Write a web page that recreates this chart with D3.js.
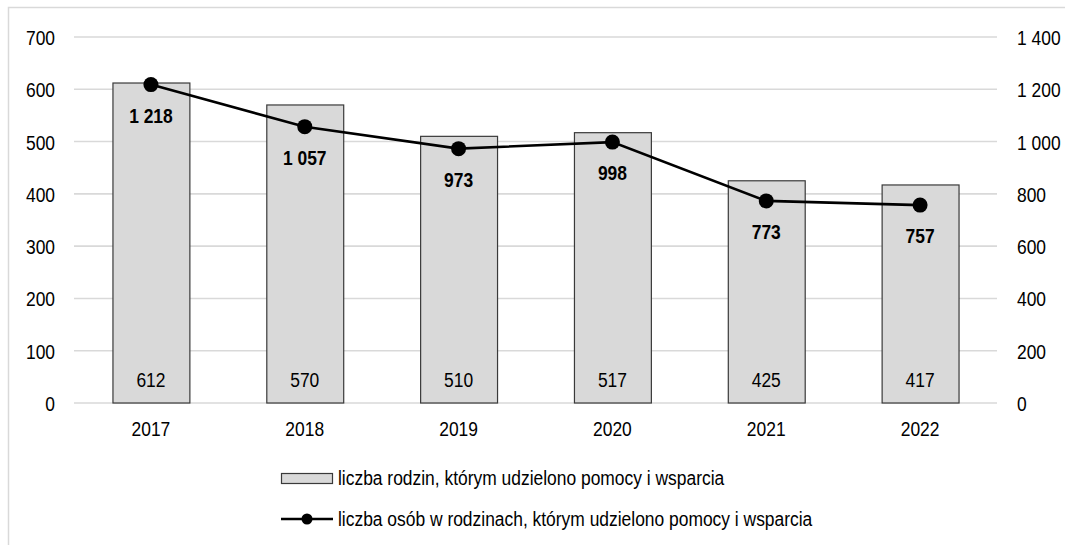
<!DOCTYPE html>
<html>
<head>
<meta charset="utf-8">
<script src="https://cdn.jsdelivr.net/npm/d3@7"></script>
<style>
  html, body { margin: 0; padding: 0; background: #fff; }
  svg { display: block; font-family: "Liberation Sans", Arial, sans-serif; }
</style>
</head>
<body>
<svg id="chart" width="1065" height="545"></svg>
<script>
// Data
const years = ["2017", "2018", "2019", "2020", "2021", "2022"];
const families = [612, 570, 510, 517, 425, 417];
const persons = [1218, 1057, 973, 998, 773, 757];
const leftTicks = [0, 100, 200, 300, 400, 500, 600, 700];
const rightTicks = [0, 200, 400, 600, 800, 1000, 1200, 1400];
const legendLabels = [
  "liczba rodzin, którym udzielono pomocy i wsparcia",
  "liczba osób w rodzinach, którym udzielono pomocy i wsparcia"
];

const svg = d3.select("#chart");
const W = 1065, H = 545;
const plot = { left: 74, right: 997, top: 37, bottom: 403 };
const SX = 0.83; // narrow text face
const FS = 21;

const pl = d3.formatLocale({ decimal: ",", thousands: " ", grouping: [3], currency: ["", ""] });
const fmt = pl.format(",d");

const x = d3.scaleBand().domain(years).range([plot.left, plot.right])
  .paddingInner(0.5).paddingOuter(0.25);
const yL = d3.scaleLinear().domain([0, 700]).range([plot.bottom, plot.top]);
const yR = d3.scaleLinear().domain([0, 1400]).range([plot.bottom, plot.top]);

function label(g, px, py, str, anchor, weight) {
  return g.append("text")
    .attr("transform", `translate(${px},${py}) scale(${SX},1)`)
    .attr("text-anchor", anchor || "middle")
    .attr("font-size", FS)
    .attr("font-weight", weight || "normal")
    .attr("fill", "#000")
    .text(str);
}

// Outer frame
svg.append("path")
  .attr("d", `M8.5,${H} V7.5 H${W}`)
  .attr("fill", "none").attr("stroke", "#d9d9d9").attr("stroke-width", 1.5);

// Gridlines
svg.append("g").selectAll("line").data(leftTicks).join("line")
  .attr("x1", plot.left).attr("x2", plot.right)
  .attr("y1", d => yL(d)).attr("y2", d => yL(d))
  .attr("stroke", "#d9d9d9").attr("stroke-width", 1.6);

// Left axis
const axL = svg.append("g").attr("transform", `translate(${plot.left},0)`)
  .call(d3.axisLeft(yL).tickValues(leftTicks).tickSize(0).tickFormat(fmt));
axL.select(".domain").remove();
axL.selectAll(".tick text")
  .attr("x", null).attr("dy", "0.36em")
  .attr("transform", `translate(-19,0) scale(${SX},1)`)
  .attr("font-size", FS).attr("font-family", null).attr("fill", "#000");

// Right axis
const axR = svg.append("g").attr("transform", `translate(${plot.right},0)`)
  .call(d3.axisRight(yR).tickValues(rightTicks).tickSize(0).tickFormat(fmt));
axR.select(".domain").remove();
axR.selectAll(".tick text")
  .attr("x", null).attr("dy", "0.36em")
  .attr("transform", `translate(20,0) scale(${SX},1)`)
  .attr("font-size", FS).attr("font-family", null).attr("fill", "#000");

// Bottom axis labels
const axB = svg.append("g").attr("transform", `translate(0,${plot.bottom})`)
  .call(d3.axisBottom(x).tickSize(0));
axB.select(".domain").remove();
axB.selectAll(".tick text")
  .attr("y", null).attr("dy", null)
  .attr("transform", `translate(0,33) scale(${SX},1)`)
  .attr("font-size", FS).attr("font-family", null).attr("fill", "#000");

// Bars
const bars = svg.append("g");
bars.selectAll("rect").data(years).join("rect")
  .attr("x", d => x(d) + 0.5)
  .attr("y", (d, i) => yL(families[i]))
  .attr("width", x.bandwidth())
  .attr("height", (d, i) => yL(0) - yL(families[i]))
  .attr("fill", "#d9d9d9").attr("stroke", "#3a3a3a").attr("stroke-width", 1.2);

// Bar value labels
const barLabels = svg.append("g");
years.forEach((yr, i) => {
  label(barLabels, x(yr) + x.bandwidth() / 2, plot.bottom - 16, fmt(families[i]));
});

// Line series
const cx = d => x(d) + x.bandwidth() / 2;
const line = d3.line().x((d, i) => cx(years[i])).y(d => yR(d));
svg.append("path").datum(persons)
  .attr("d", line).attr("fill", "none")
  .attr("stroke", "#000").attr("stroke-width", 2.6);
svg.append("g").selectAll("circle").data(persons).join("circle")
  .attr("cx", (d, i) => cx(years[i])).attr("cy", d => yR(d))
  .attr("r", 7.5).attr("fill", "#000");

// Line value labels
const lineLabels = svg.append("g");
persons.forEach((v, i) => {
  label(lineLabels, cx(years[i]), yR(v) + 38, fmt(v), "middle", "bold");
});

// Legend
const lg = svg.append("g");
lg.append("rect").attr("x", 281.5).attr("y", 473.5).attr("width", 51).attr("height", 10)
  .attr("fill", "#d9d9d9").attr("stroke", "#3a3a3a").attr("stroke-width", 1.2);
label(lg, 338, 485, legendLabels[0], "start");
lg.append("line").attr("x1", 281).attr("x2", 333).attr("y1", 519).attr("y2", 519)
  .attr("stroke", "#000").attr("stroke-width", 2.6);
lg.append("circle").attr("cx", 307).attr("cy", 519).attr("r", 5.5).attr("fill", "#000");
label(lg, 338, 526, legendLabels[1], "start");
</script>
</body>
</html>
